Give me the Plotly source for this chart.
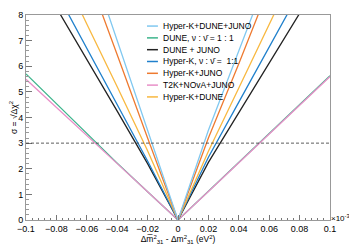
import plotly.graph_objects as go

x_vals = [-0.1, -0.08, -0.06, -0.04, -0.02, 0.0, 0.02, 0.04, 0.06, 0.08, 0.1]

sig_hk_dune_juno = [17.5, 14.0, 10.5, 7.05, 3.5, 0.0, 3.5, 6.6, 9.7, 12.8, 15.9]
sig_dune_11 = [5.70, 4.53, 3.38, 2.22, 1.1, 0.0, 1.12, 2.24, 3.37, 4.5, 5.63]
sig_dune_juno = [10.3, 8.3, 6.3, 4.25, 2.2, 0.0, 2.25, 4.2, 6.1, 8.05, 10.0]
sig_hk_11 = [11.1, 8.9, 6.75, 4.55, 2.3, 0.0, 2.45, 4.6, 6.75, 8.9, 11.05]
sig_hk_juno = [16.1, 12.9, 9.7, 6.45, 3.2, 0.0, 3.2, 6.1, 9.1, 12.1, 15.1]
sig_t2k_nova_juno = [5.49, 4.4, 3.32, 2.2, 1.1, 0.0, 1.11, 2.23, 3.35, 4.47, 5.6]
sig_hk_dune = [12.6, 10.1, 7.65, 5.2, 2.7, 0.0, 2.68, 5.15, 7.6, 10.1, 12.6]

names = ["Hyper-K+DUNE+JUNO", "DUNE, ν : ν\u0304 = 1 : 1", "DUNE + JUNO",
         "Hyper-K, ν : ν\u0304 =  1:1", "Hyper-K+JUNO", "T2K+NOvA+JUNO", "Hyper-K+DUNE"]
series = [sig_hk_dune_juno, sig_dune_11, sig_dune_juno, sig_hk_11,
          sig_hk_juno, sig_t2k_nova_juno, sig_hk_dune]
colors = ["#80c8f0", "#3db58c", "#222222", "#2080cc", "#ee7a30", "#e890c8", "#f8b840"]

x_ticks = [-0.1, -0.08, -0.06, -0.04, -0.02, 0, 0.02, 0.04, 0.06, 0.08, 0.1]
x_ticklabels = ["−0.1", "−0.08", "−0.06", "−0.04", "−0.02", "0", "0.02", "0.04", "0.06", "0.08", "0.1"]
y_ticks = [0, 1, 2, 3, 4, 5, 6, 7, 8]
threshold = 3

fig = go.Figure()
order = [1, 5, 2, 3, 6, 4, 0]
for i in order:
    fig.add_trace(go.Scatter(x=x_vals, y=series[i], mode="lines", name=names[i],
                             line=dict(color=colors[i], width=1.3), showlegend=False))

fig.add_shape(type="line", xref="x domain", yref="y", x0=0, x1=1, y0=threshold, y1=threshold,
              line=dict(color="#333333", width=0.8, dash="3px,2px"))

# manual compact legend (plotly's own legend rows are too tall)
leg_x0, leg_x1, leg_tx = 0.398, 0.434, 0.447
leg_y0, leg_dy = 0.946, 0.0576
for i, (nm, col) in enumerate(zip(names, colors)):
    yy = leg_y0 - i * leg_dy
    fig.add_shape(type="line", xref="paper", yref="paper", x0=leg_x0, x1=leg_x1, y0=yy, y1=yy,
                  line=dict(color=col, width=1.5))
    fig.add_annotation(x=leg_tx, y=yy, xref="paper", yref="paper", text=nm, showarrow=False,
                       xanchor="left", yanchor="middle", font=dict(size=8.5), borderpad=0)

# page has an 8px body margin; shift the figure to compensate
fig.update_layout(
    width=349, height=244,
    margin=dict(l=18, r=27, t=7, b=32, autoexpand=False),
    paper_bgcolor="white", plot_bgcolor="white",
    font=dict(family="Liberation Sans, Arial", size=9, color="black"),
    showlegend=False,
    xaxis=dict(range=[-0.1, 0.1], tickvals=x_ticks, ticktext=x_ticklabels,
               automargin=False,
               ticks="inside", ticklen=5, tickcolor="#777777", showgrid=False,
               zeroline=False, showline=True, linecolor="#999999", mirror=True,
               minor=dict(dtick=0.004, ticks="inside", ticklen=2.5, tickcolor="#777777"),
               title=dict(text="Δm\u0305<sup>2</sup><sub>31</sub> - Δm<sup>2</sup><sub>31</sub> (eV<sup>2</sup>)",
                          font=dict(size=8.5), standoff=2),
               tickfont=dict(size=9)),
    yaxis=dict(range=[0, 8], tickvals=y_ticks, automargin=False,
               ticks="inside", ticklen=6, tickcolor="#777777", showgrid=False,
               zeroline=False, showline=True, linecolor="#999999", mirror=True,
               minor=dict(dtick=0.2, ticks="inside", ticklen=3, tickcolor="#999999"),
               title=dict(text="σ = √Δχ<sup>2</sup>", font=dict(size=8.5), standoff=4),
               tickfont=dict(size=9)),
)

fig.add_annotation(x=1.0, y=0, xref="paper", yref="paper", text="×10<sup>-3</sup>",
                   showarrow=False, xanchor="left", yanchor="middle", xshift=0, yshift=2,
                   font=dict(size=8), borderpad=0)

fig.write_html("out.html")
